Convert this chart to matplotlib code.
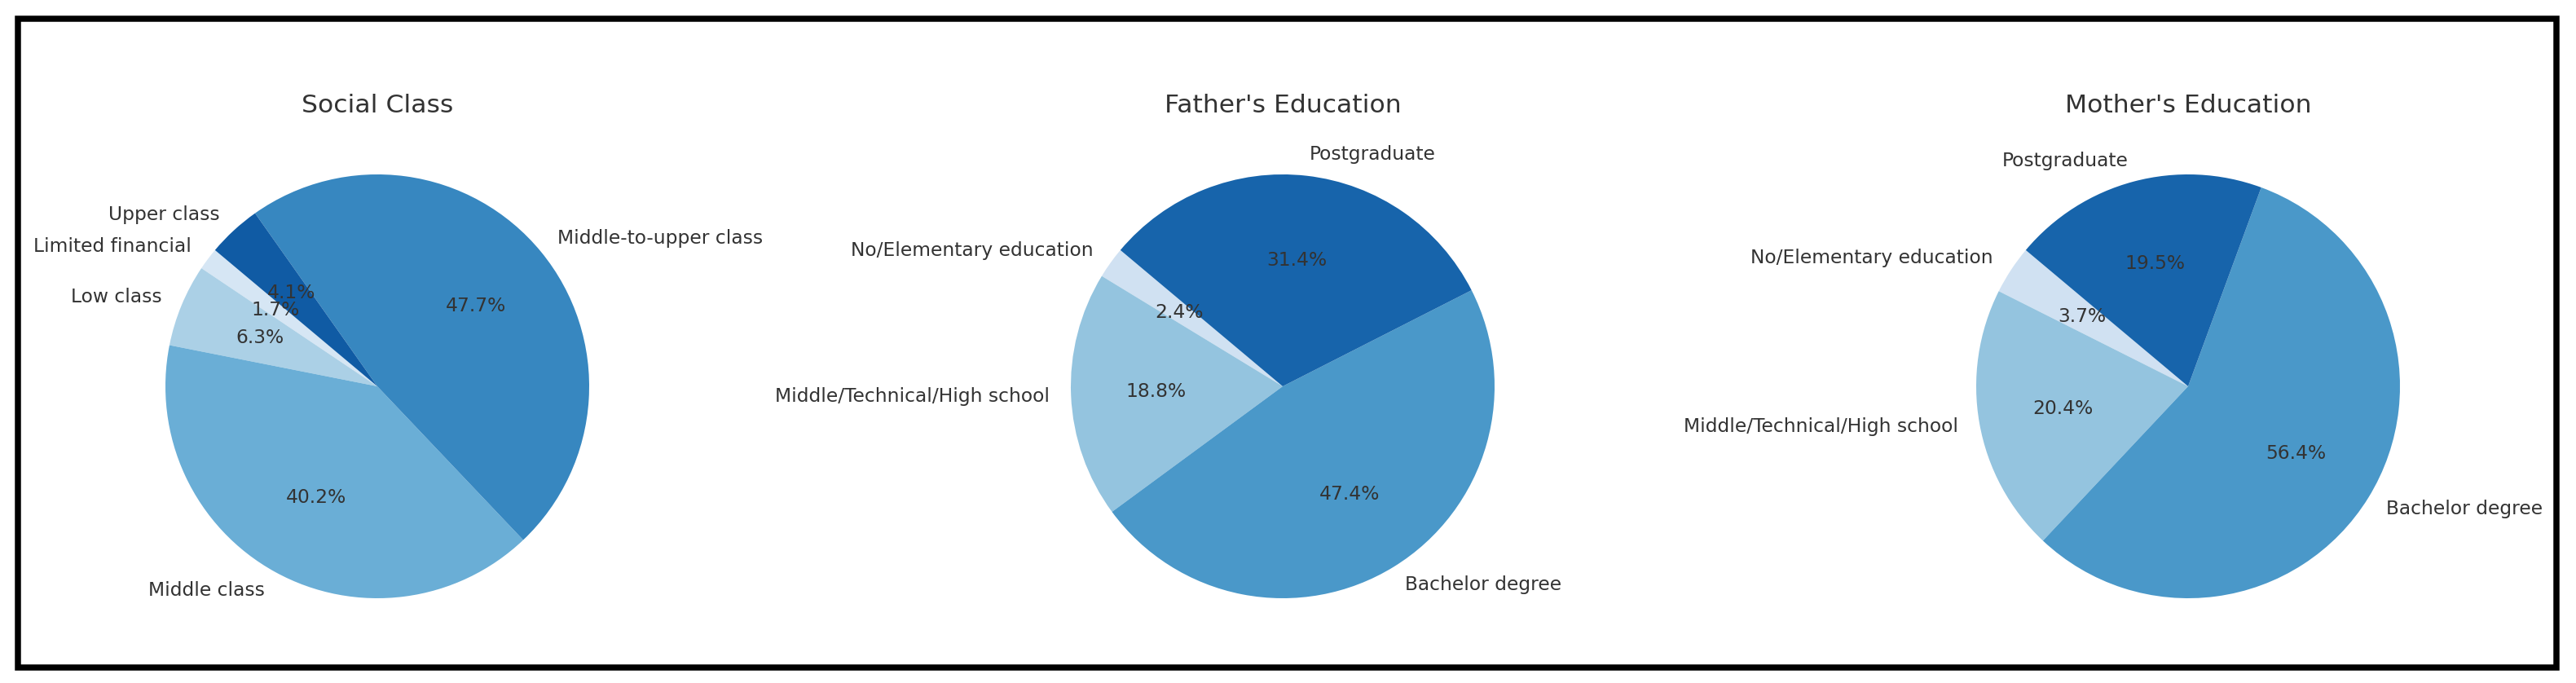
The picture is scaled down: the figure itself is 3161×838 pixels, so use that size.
import numpy as np
import matplotlib
matplotlib.use("Agg")
import matplotlib.pyplot as plt
from matplotlib.patches import Rectangle

# Data
social_labels = ['Limited financial', 'Low class', 'Middle class',
                 'Middle-to-upper class', 'Upper class']
social_values = [1.7, 6.3, 40.2, 47.7, 4.1]

edu_labels = ['No/Elementary education', 'Middle/Technical/High school',
              'Bachelor degree', 'Postgraduate']
father_values = [2.4, 18.8, 47.4, 31.4]
mother_values = [3.7, 20.4, 56.4, 19.5]

titles = ['Social Class', "Father's Education", "Mother's Education"]

W, H = 3161, 838
fig = plt.figure(figsize=(W / 100, H / 100), dpi=100, facecolor='white')

text_color = '#333333'
label_size = 16.8
title_size = 22.6


def blues(n):
    # same sampling as seaborn's "Blues" palette
    return plt.cm.Blues(np.linspace(0, 1, n + 2)[1:-1])


def add_pie(cx, cy, r, values, labels, title):
    s = 2.5 * r
    ax = fig.add_axes([(cx - s / 2) / W, (H - cy - s / 2) / H, s / W, s / H])
    ax.pie(values, labels=labels, colors=blues(len(values)),
           autopct='%1.1f%%', startangle=140,
           textprops={'fontsize': label_size, 'color': text_color})
    ax.set_title(title, fontsize=title_size, color=text_color, pad=8)
    return ax


add_pie(463, 474, 260, social_values, social_labels, titles[0])
add_pie(1574, 474, 260, father_values, edu_labels, titles[1])
add_pie(2685, 474, 260, mother_values, edu_labels, titles[2])

# black frame around the whole panel
fig.add_artist(Rectangle((22 / W, (H - 818.5) / H), (3137 - 22) / W, (818.5 - 23.5) / H,
                         transform=fig.transFigure, fill=False,
                         edgecolor='black', linewidth=5.4))

fig.savefig('out.png', dpi=100, facecolor='white')
